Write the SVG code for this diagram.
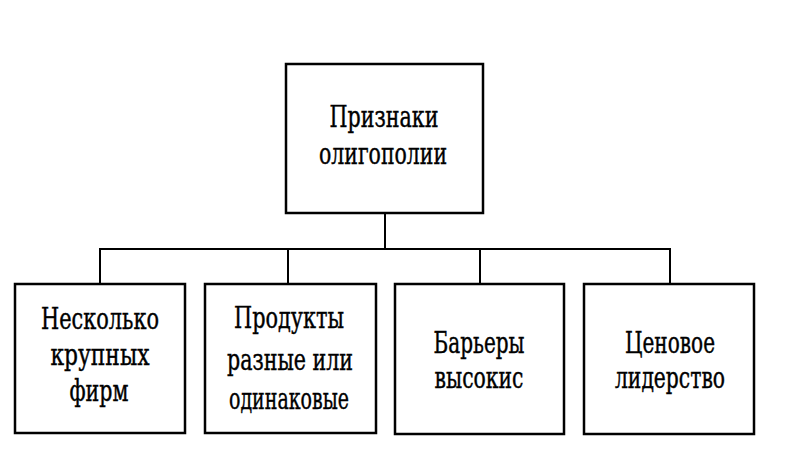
<svg xmlns="http://www.w3.org/2000/svg" width="800" height="450" viewBox="0 0 800 450">
<style>
.box{fill:#fff;stroke:#000;stroke-width:2.5}
.ln{fill:none;stroke:#000;stroke-width:2}
text{font-family:"DejaVu Serif Condensed","DejaVu Serif","Liberation Serif",serif;fill:#000;stroke:#000;stroke-width:0.4;text-anchor:middle;font-size:29px}
</style>
<rect width="800" height="450" fill="#fff"/>
<g id="connectors">
<line class="ln" x1="385" y1="213" x2="385" y2="249"/>
<polyline class="ln" points="100,284 100,249 670,249 670,284"/>
<line class="ln" x1="288" y1="249" x2="288" y2="284"/>
<line class="ln" x1="480" y1="249" x2="480" y2="284"/>
</g>
<g id="root">
<rect class="box" x="286" y="64" width="197" height="149"/>
<text x="384" y="127" textLength="109" lengthAdjust="spacingAndGlyphs">Признаки</text>
<text x="383" y="164" textLength="128" lengthAdjust="spacingAndGlyphs">олигополии</text>
</g>
<g id="n1">
<rect class="box" x="15" y="284" width="170" height="149"/>
<text x="100" y="329" textLength="118" lengthAdjust="spacingAndGlyphs">Несколько</text>
<text x="100" y="365" textLength="99" lengthAdjust="spacingAndGlyphs">крупных</text>
<text x="99" y="401" textLength="59" lengthAdjust="spacingAndGlyphs">фирм</text>
</g>
<g id="n2">
<rect class="box" x="205" y="284" width="171" height="149"/>
<text x="289" y="328" textLength="110" lengthAdjust="spacingAndGlyphs">Продукты</text>
<text x="290" y="370" textLength="126" lengthAdjust="spacingAndGlyphs">разные или</text>
<text x="289" y="409" textLength="120" lengthAdjust="spacingAndGlyphs">одинаковые</text>
</g>
<g id="n3">
<rect class="box" x="395" y="284" width="169" height="150"/>
<text x="479" y="353" textLength="91" lengthAdjust="spacingAndGlyphs">Барьеры</text>
<text x="479" y="388" textLength="89" lengthAdjust="spacingAndGlyphs">высокис</text>
</g>
<g id="n4">
<rect class="box" x="584" y="284" width="170" height="150"/>
<text x="670" y="353" textLength="90" lengthAdjust="spacingAndGlyphs">Ценовое</text>
<text x="670" y="388" textLength="110" lengthAdjust="spacingAndGlyphs">лидерство</text>
</g>
</svg>
